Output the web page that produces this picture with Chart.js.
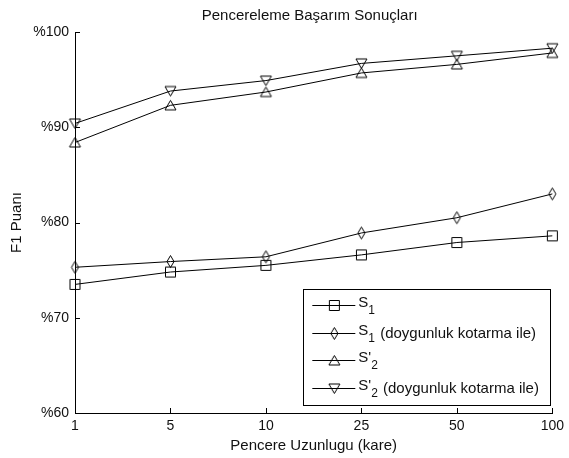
<!DOCTYPE html>
<html>
<head>
<meta charset="utf-8">
<script src="https://cdn.jsdelivr.net/npm/chart.js@4"></script>
<style>
  html, body { margin:0; padding:0; background:#fff; }
  #wrap { width:569px; height:458px; }
</style>
</head>
<body>
<div id="wrap"><canvas id="c" width="569" height="458"></canvas></div>
<script>
// data
const windowLabels = ["1", "5", "10", "25", "50", "100"];
const s1 = [73.5, 74.8, 75.5, 76.6, 77.9, 78.6];
const s1Sat = [75.3, 75.9, 76.4, 78.9, 80.5, 83.0];
const s2 = [88.4, 92.3, 93.7, 95.7, 96.6, 97.8];
const s2Sat = [90.4, 93.8, 94.9, 96.7, 97.5, 98.3];
const yTicks = [60, 70, 80, 90, 100];
const chartTitle = "Pencereleme Başarım Sonuçları";

const FONT = "'Liberation Sans', Arial, sans-serif";
const INK = "#111";

// open markers drawn on small canvases
function marker(kind){
  const c = document.createElement("canvas");
  c.width = 15; c.height = 15;
  const g = c.getContext("2d");
  g.strokeStyle = "#000";
  g.lineWidth = 1;
  g.beginPath();
  if(kind==="square"){
    g.rect(2.5,2.5,10,10);
  } else if(kind==="diamond"){
    g.moveTo(7.5,1.5); g.lineTo(11,7.5); g.lineTo(7.5,13.5); g.lineTo(4,7.5); g.closePath();
  } else if(kind==="up"){
    g.moveTo(7.5,2.5); g.lineTo(13,12); g.lineTo(2,12); g.closePath();
  } else {
    g.moveTo(7.5,12.5); g.lineTo(13,3); g.lineTo(2,3); g.closePath();
  }
  g.stroke();
  return c;
}
const mSquare = marker("square"), mDiamond = marker("diamond"), mUp = marker("up"), mDown = marker("down");

function series(label, data, pt){
  return {
    label, data,
    borderColor:"#000", borderWidth:1,
    pointStyle:pt, pointRadius:7, pointHoverRadius:7,
    fill:false, tension:0
  };
}

// ticks pointing into the plot, MATLAB style, plus the title over the plot area
const innerTicks = {
  id:"innerTicks",
  afterDraw(chart){
    const ctx = chart.ctx, a = chart.chartArea;
    const x = chart.scales.x, y = chart.scales.y;
    ctx.save();
    ctx.strokeStyle = "#000"; ctx.lineWidth = 1;
    ctx.beginPath();
    y.ticks.forEach((t,i)=>{
      const py = Math.round(y.getPixelForTick(i)) + 0.5;
      ctx.moveTo(a.left, py); ctx.lineTo(a.left+5, py);
    });
    x.ticks.forEach((t,i)=>{
      const px = Math.round(x.getPixelForTick(i)) + 0.5;
      ctx.moveTo(px, a.bottom); ctx.lineTo(px, a.bottom-5);
    });
    ctx.stroke();
    ctx.fillStyle = INK;
    ctx.font = "15px " + FONT;
    ctx.textAlign = "center";
    ctx.textBaseline = "middle";
    ctx.fillText(chartTitle, (a.left + a.right)/2 - 4, 16);
    ctx.restore();
  }
};

// legend box with line + marker samples and subscripts
const boxLegend = {
  id:"boxLegend",
  afterDraw(chart){
    const ctx = chart.ctx, a = chart.chartArea;
    const right = a.right - 2, bottom = a.bottom - 8;
    const left = right - 247, top = bottom - 116;
    ctx.save();
    ctx.fillStyle = "#fff";
    ctx.fillRect(left, top, right-left, bottom-top);
    ctx.strokeStyle = "#000"; ctx.lineWidth = 1;
    ctx.strokeRect(Math.round(left)+0.5, Math.round(top)+0.5, Math.round(right-left), Math.round(bottom-top));
    const rows = [
      {m:mSquare, base:"S", sub:"1", rest:""},
      {m:mDiamond, base:"S", sub:"1", rest:" (doygunluk kotarma ile)"},
      {m:mUp, base:"S'", sub:"2", rest:""},
      {m:mDown, base:"S'", sub:"2", rest:" (doygunluk kotarma ile)"}
    ];
    rows.forEach((r,i)=>{
      const cy = Math.round(top + 16 + i*27.7) + 0.5;
      const x0 = left + 9;
      ctx.beginPath();
      ctx.moveTo(x0, cy); ctx.lineTo(x0+43, cy);
      ctx.stroke();
      ctx.drawImage(r.m, x0+22-7.5, cy-7.5);
      let tx = x0 + 46;
      ctx.fillStyle = INK;
      ctx.textBaseline = "middle";
      ctx.font = "15px " + FONT;
      ctx.fillText(r.base, tx, cy-3);
      tx += ctx.measureText(r.base).width;
      ctx.font = "12px " + FONT;
      ctx.fillText(r.sub, tx, cy+5);
      tx += ctx.measureText(r.sub).width + 1;
      ctx.font = "15px " + FONT;
      ctx.fillText(r.rest, tx, cy);
    });
    ctx.restore();
  }
};

new Chart(document.getElementById("c"), {
  type:"line",
  data:{
    labels:windowLabels,
    datasets:[
      series("S1", s1, mSquare),
      series("S1 (doygunluk kotarma ile)", s1Sat, mDiamond),
      series("S'2", s2, mUp),
      series("S'2 (doygunluk kotarma ile)", s2Sat, mDown)
    ]
  },
  options:{
    responsive:false,
    animation:false,
    events:[],
    layout:{padding:{left:0, right:12, top:32, bottom:0}},
    scales:{
      x:{
        type:"category",
        offset:false,
        afterFit(s){ s.height = 45; },
        grid:{drawOnChartArea:false, drawTicks:false},
        border:{display:true, color:"#000", width:1},
        ticks:{color:INK, font:{family:FONT, size:14}, padding:5, maxRotation:0},
        title:{display:true, text:"Pencere Uzunlugu (kare)", color:INK, font:{family:FONT, size:15}, padding:{top:0, bottom:3}}
      },
      y:{
        min:60, max:100,
        afterFit(s){ s.width = 75; },
        afterBuildTicks(s){ s.ticks = yTicks.map(v=>({value:v})); },
        grid:{drawOnChartArea:false, drawTicks:false},
        border:{display:true, color:"#000", width:1},
        ticks:{color:INK, font:{family:FONT, size:14}, padding:6, callback:v=>"%"+v},
        title:{display:true, text:"F1 Puanı", color:INK, font:{family:FONT, size:15}, padding:{top:8, bottom:0}}
      }
    },
    plugins:{
      legend:{display:false},
      tooltip:{enabled:false},
      title:{display:false}
    }
  },
  plugins:[innerTicks, boxLegend]
});
</script>
</body>
</html>
